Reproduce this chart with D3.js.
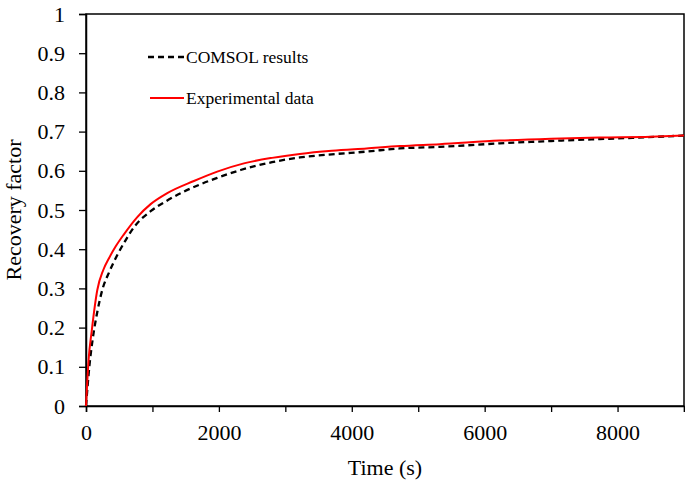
<!DOCTYPE html>
<html><head><meta charset="utf-8">
<script src="https://cdn.jsdelivr.net/npm/d3@7"></script>
<style>body{margin:0;background:#fff}svg{display:block}</style>
</head><body>
<svg id="c" width="685" height="486"></svg>
<script>
const expTime = [0,40,85,170,260,346,450,571,772,973,1223,1624,1975,2376,2800,3218,3700,4221,4722,5323,6226,7000,7729,8500,9000];
const expValue = [0,0.12,0.19,0.296,0.347,0.377,0.408,0.438,0.482,0.515,0.543,0.574,0.598,0.619,0.633,0.643,0.651,0.657,0.663,0.668,0.677,0.682,0.685,0.687,0.69];
const comTime = [0,50,100,170,245,350,471,600,722,973,1200,1474,1714,1975,2326,2800,3218,3700,4221,4722,5323,6226,7000,7729,8226,9000];
const comValue = [0,0.1,0.17,0.24,0.296,0.342,0.385,0.424,0.456,0.497,0.522,0.547,0.565,0.582,0.602,0.622,0.634,0.642,0.649,0.657,0.661,0.670,0.676,0.681,0.684,0.690];
const xTicks = [0,1000,2000,3000,4000,5000,6000,7000,8000,9000];
const xTickLabels = ["0","","2000","","4000","","6000","","8000",""];
const yTicks = [0,0.1,0.2,0.3,0.4,0.5,0.6,0.7,0.8,0.9,1];
const yTickLabels = ["0","0.1","0.2","0.3","0.4","0.5","0.6","0.7","0.8","0.9","1"];
const legendLabels = ["COMSOL results","Experimental data"];

const svg = d3.select("#c");
const L=86,R=684,T=14,B=406;
const x = d3.scaleLinear().domain([0,9000]).range([L,R]);
const y = d3.scaleLinear().domain([0,1]).range([B,T]);
const font = "Liberation Serif, Times New Roman, serif";

svg.append("rect").attr("x",L).attr("y",T).attr("width",R-L).attr("height",B-T)
  .attr("fill","none").attr("stroke","#000").attr("stroke-width",1.5);

const xAxis = svg.append("g").attr("transform",`translate(0,${B})`)
  .call(d3.axisBottom(x).tickValues(xTicks).tickSize(6).tickPadding(12)
    .tickFormat((d,i)=>xTickLabels[i]));
const yAxis = svg.append("g").attr("transform",`translate(${L},0)`)
  .call(d3.axisLeft(y).tickValues(yTicks).tickSize(7).tickPadding(14)
    .tickFormat((d,i)=>yTickLabels[i]));
[xAxis,yAxis].forEach(g=>{
  g.select(".domain").attr("stroke","#000").attr("stroke-width",1.5);
  g.selectAll(".tick line").attr("stroke","#000").attr("stroke-width",1.3);
  g.selectAll("text").attr("font-family",font).attr("font-size",22).attr("fill","#000");
});

const line = d3.line().curve(d3.curveMonotoneX);
svg.append("path").attr("d",line(comTime.map((t,i)=>[x(t),y(comValue[i])])))
  .attr("fill","none").attr("stroke","#000").attr("stroke-width",2.3).attr("stroke-dasharray","6,4");
svg.append("path").attr("d",line(expTime.map((t,i)=>[x(t),y(expValue[i])])))
  .attr("fill","none").attr("stroke","#f00").attr("stroke-width",2);

svg.append("line").attr("x1",148).attr("x2",184).attr("y1",57).attr("y2",57)
  .attr("stroke","#000").attr("stroke-width",2.3).attr("stroke-dasharray","6,4");
svg.append("text").attr("x",186).attr("y",63).text(legendLabels[0])
  .attr("font-family",font).attr("font-size",17.5);
svg.append("line").attr("x1",150).attr("x2",184).attr("y1",98).attr("y2",98)
  .attr("stroke","#f00").attr("stroke-width",2);
svg.append("text").attr("x",186).attr("y",104).text(legendLabels[1])
  .attr("font-family",font).attr("font-size",17.5);

svg.append("text").attr("x",(L+R)/2).attr("y",475).attr("text-anchor","middle")
  .attr("font-family",font).attr("font-size",22).text("Time (s)");
svg.append("text").attr("transform",`translate(21,${(T+B)/2}) rotate(-90)`).attr("text-anchor","middle")
  .attr("font-family",font).attr("font-size",22).text("Recovery factor");
</script>
</body></html>
